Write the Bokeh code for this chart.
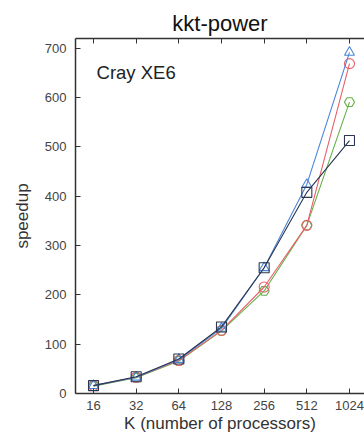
from bokeh.plotting import figure
from bokeh.models import FixedTicker, LogAxis, Label, Range1d
from bokeh.embed import file_html
from bokeh.resources import INLINE

# data
k = [16, 32, 64, 128, 256, 512, 1024]
k_labels = ["16", "32", "64", "128", "256", "512", "1024"]
y_ticks = [0, 100, 200, 300, 400, 500, 600, 700]
speedup_triangle = [16, 33, 69, 132, 255, 424, 692]
speedup_circle = [16, 33, 67, 128, 216, 341, 669]
speedup_hex = [15, 32, 66, 127, 208, 341, 591]
speedup_square = [16, 34, 70, 135, 255, 408, 513]

FONT = "Liberation Sans"
AX = "#333333"

p = figure(width=364, height=435, x_axis_type="log",
           x_range=Range1d(11.94, 1307), y_range=Range1d(0, 720),
           output_backend="svg", toolbar_location=None,
           min_border_left=75, min_border_right=0, min_border_top=38, min_border_bottom=42)
p.outline_line_color = None
p.grid.visible = False
p.background_fill_color = "white"
p.border_fill_color = "white"

p.title.text = "kkt-power"
p.title.align = "center"
p.title.offset = 6
p.title.standoff = 6
p.title.text_font = FONT
p.title.text_font_size = "22px"
p.title.text_font_style = "normal"
p.title.text_color = "#111111"

ov = {v: l for v, l in zip(k, k_labels)}
xa = p.xaxis[0]
xa.ticker = FixedTicker(ticks=k)
xa.major_label_overrides = ov
xa.axis_label = "K (number of processors)"
ya = p.yaxis[0]
ya.ticker = FixedTicker(ticks=y_ticks)
ya.axis_label = "speedup"
for a in (xa, ya):
    a.major_tick_in = 5
    a.major_tick_out = 0
    a.minor_tick_line_color = None
    a.axis_line_color = AX
    a.axis_line_width = 1.5
    a.major_tick_line_color = AX
    a.major_label_text_font = FONT
    a.major_label_text_font_size = "13px"
    a.major_label_text_color = "#444444"
    a.axis_label_text_font = FONT
    a.axis_label_text_font_size = "17px"
    a.axis_label_text_font_style = "normal"
    a.axis_label_text_color = "#333333"
xa.major_label_standoff = 7
xa.axis_label_standoff = 1
ya.major_label_standoff = 9
ya.axis_label_standoff = 10

top = LogAxis(ticker=FixedTicker(ticks=k), major_tick_in=5, major_tick_out=0,
              minor_tick_line_color=None, axis_line_color=AX, axis_line_width=1.5,
              major_tick_line_color=AX, major_label_text_color=None,
              major_label_text_font_size="13px", major_label_standoff=0)
p.add_layout(top, "above")

specs = [
    (speedup_hex, "#66b04a", "hex"),
    (speedup_circle, "#e8606a", "circle"),
    (speedup_triangle, "#4a86d8", "triangle"),
    (speedup_square, "#2b3650", "square"),
]
for ys, col, mk in specs:
    p.line(k, ys, line_color=col, line_width=1.1)
    p.scatter(k, ys, marker=mk, size=10, line_color=col, fill_color=None, line_width=1.1)

p.add_layout(Label(x=16.8, y=651, text="Cray XE6", text_font=FONT, text_font_size="18.5px",
                   text_baseline="middle", text_color="#222222"))

open("out.html", "w").write(file_html(p, INLINE))
